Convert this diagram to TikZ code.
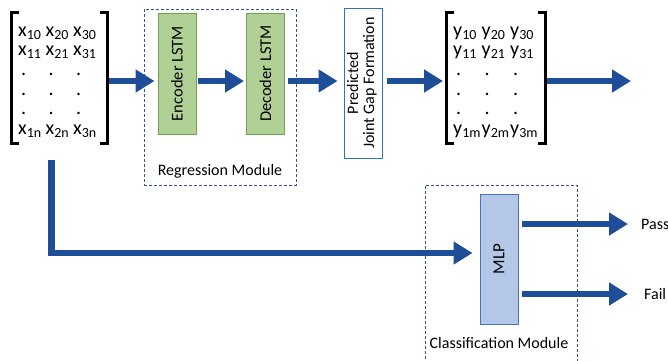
\documentclass[tikz,border=0pt]{standalone}
\usepackage{fontspec}
\setmainfont{Carlito}
\usetikzlibrary{matrix, positioning, arrows.meta}

\definecolor{flowblue}{RGB}{31,78,152}
\definecolor{dashblue}{RGB}{47,85,151}
\definecolor{lstmgreen}{RGB}{176,208,150}
\definecolor{lstmedge}{RGB}{112,160,80}
\definecolor{mlpfill}{RGB}{180,199,231}
\definecolor{mlpedge}{RGB}{68,114,196}
\definecolor{prededge}{RGB}{46,117,182}

\begin{document}
\begin{tikzpicture}[
    x=1pt, y=-1pt,
    flow/.style={line width=6.5pt, draw=flowblue, -{Triangle[length=19pt, width=22pt]}},
    module/.style={draw=dashblue, line width=0.9pt, dash pattern=on 3pt off 2pt},
    lstm/.style={draw=lstmedge, fill=lstmgreen, line width=1pt, inner sep=0pt,
        minimum width=38pt, minimum height=121pt, font=\fontsize{16.5}{18}\selectfont},
    lbl/.style={inner sep=1pt, font=\fontsize{16}{18}\selectfont},
    brk/.style={line width=3pt, draw=black},
    vecmat/.style={
        matrix of nodes,
        anchor=north west,
        inner xsep=7pt, inner ysep=0pt,
        row sep=0pt, column sep=0pt,
        nodes={inner sep=0pt, text height=14pt, text depth=5.6pt, align=left,
            font=\fontsize{20}{20}\selectfont}
    }
]
\useasboundingbox (0,0) rectangle (668,360);

% input sequence
\matrix[vecmat, nodes={text width=27.5pt}] (xmat) at (11,22) {
    x\textsubscript{10} & x\textsubscript{20} & x\textsubscript{30} \\
    x\textsubscript{11} & x\textsubscript{21} & x\textsubscript{31} \\
    \hspace*{3pt}. & \hspace*{3pt}. & \hspace*{3pt}. \\
    \hspace*{3pt}. & \hspace*{3pt}. & \hspace*{3pt}. \\
    \hspace*{3pt}. & \hspace*{3pt}. & \hspace*{3pt}. \\
    x\textsubscript{1n} & x\textsubscript{2n} & x\textsubscript{3n} \\
};
\draw[brk] ([xshift=8pt, yshift=10pt]xmat.north west) -- ([yshift=10pt]xmat.north west)
    -- ([yshift=-3.5pt]xmat.south west) -- ([xshift=8pt, yshift=-3.5pt]xmat.south west);
\draw[brk] ([xshift=-8pt, yshift=10pt]xmat.north east) -- ([yshift=10pt]xmat.north east)
    -- ([yshift=-3.5pt]xmat.south east) -- ([xshift=-8pt, yshift=-3.5pt]xmat.south east);

% regression module
\node[module, minimum width=152pt, minimum height=176pt] (reg) at (220,97) {};
\node[lstm] (enc) at (177,73.5) {\rotatebox{90}{Encoder LSTM}};
\node[lstm] (dec) at (265.5,73.5) {\rotatebox{90}{Decoder LSTM}};
\node[lbl, above=6pt of reg.south] (reglab) {Regression Module};

% predicted output
\node[draw=prededge, line width=1pt, inner sep=0pt, minimum width=38pt, minimum height=150pt,
    font=\fontsize{16}{16}\selectfont] (pred) at (363,83)
    {\rotatebox{90}{\begin{tabular}{@{}c@{}}Predicted\\Joint Gap Formation\end{tabular}}};

% output sequence
\matrix[vecmat, nodes={text width=28.5pt}] (ymat) at (446,22) {
    y\textsubscript{10} & y\textsubscript{20} & y\textsubscript{30} \\
    y\textsubscript{11} & y\textsubscript{21} & y\textsubscript{31} \\
    \hspace*{3pt}. & \hspace*{3pt}. & \hspace*{3pt}. \\
    \hspace*{3pt}. & \hspace*{3pt}. & \hspace*{3pt}. \\
    \hspace*{3pt}. & \hspace*{3pt}. & \hspace*{3pt}. \\
    y\textsubscript{1m} & y\textsubscript{2m} & y\textsubscript{3m} \\
};
\draw[brk] ([xshift=8pt, yshift=10pt]ymat.north west) -- ([yshift=10pt]ymat.north west)
    -- ([yshift=-3.5pt]ymat.south west) -- ([xshift=8pt, yshift=-3.5pt]ymat.south west);
\draw[brk] ([xshift=-8pt, yshift=10pt]ymat.north east) -- ([yshift=10pt]ymat.north east)
    -- ([yshift=-3.5pt]ymat.south east) -- ([xshift=-8pt, yshift=-3.5pt]ymat.south east);

% classification module
\node[module, minimum width=152pt, minimum height=180pt] (cls) at (501,275) {};
\node[draw=mlpedge, fill=mlpfill, line width=1pt, inner sep=0pt, minimum width=38pt,
    minimum height=130pt, font=\fontsize{17}{18}\selectfont] (mlp) at (499,259) {\rotatebox{90}{MLP}};
\node[lbl, below=12pt of mlp] (clslab) {Classification Module};
\node[lbl, anchor=west] (pass) at (640,224) {Pass};
\node[lbl, anchor=west] (fail) at (643,294) {Fail};

% connectors
\coordinate (row) at (0,81);
\coordinate (out) at (631,81);
\coordinate (xdown) at (51.5,160);
\draw[flow, shorten <=1.5pt, shorten >=3pt] (xmat.east |- row) -- (enc.west |- row);
\draw[flow, shorten <=1pt, shorten >=2pt] (enc.east |- row) -- (dec.west |- row);
\draw[flow, shorten <=3pt, shorten >=6pt] (dec.east |- row) -- (pred.west |- row);
\draw[flow, shorten <=4pt, shorten >=3pt] (pred.east |- row) -- (ymat.west |- row);
\draw[flow, shorten <=1.5pt] (ymat.east |- row) -- (out);
\draw[flow, shorten >=7pt] (xdown) |- ([yshift=6pt]mlp.west);
\draw[flow, shorten <=3pt, shorten >=12pt] (mlp.east |- pass.west) -- (pass.west);
\draw[flow, shorten <=3pt, shorten >=15pt] (mlp.east |- fail.west) -- (fail.west);

\end{tikzpicture}
\end{document}
